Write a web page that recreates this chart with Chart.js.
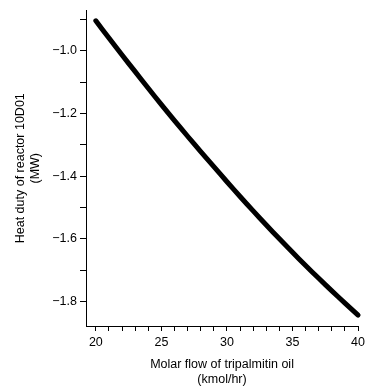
<!DOCTYPE html>
<html>
<head>
<meta charset="utf-8">
<script src="https://cdn.jsdelivr.net/npm/chart.js@4"></script>
<style>
html,body{margin:0;padding:0;background:#fff;}
#wrap{width:369px;height:391px;position:relative;}
</style>
</head>
<body>
<div id="wrap"><canvas id="c" width="369" height="391"></canvas></div>
<script>
// Molar flow of tripalmitin oil (kmol/hr)
const molarFlow = [20,21,22,23,24,25,26,27,28,29,30,31,32,33,34,35,36,37,38,39,40];
// Heat duty of reactor 10D01 (MW)
const heatDuty = [-0.905,-0.960,-1.014,-1.067,-1.120,-1.172,-1.223,-1.273,-1.322,-1.370,-1.418,-1.465,-1.511,-1.556,-1.600,-1.643,-1.685,-1.726,-1.766,-1.805,-1.843];
const xTickLabels = [20,25,30,35,40];
const yTickLabels = [-1.0,-1.2,-1.4,-1.6,-1.8];

const pts = molarFlow.map((x,i)=>({x:x,y:heatDuty[i]}));
const fmt = v => (v<0?'\u2212':'') + Math.abs(v).toFixed(1);
const font = {family:'"Liberation Sans", Arial, sans-serif', size:12.5};

new Chart(document.getElementById('c'), {
  type:'line',
  data:{datasets:[{data:pts, borderColor:'#000', borderWidth:5, borderCapStyle:'round', borderJoinStyle:'round', pointRadius:0, tension:0.3, fill:false}]},
  options:{
    responsive:false, animation:false, clip:false,
    layout:{padding:{top:6,right:7,left:13,bottom:4}},
    plugins:{legend:{display:false}, tooltip:{enabled:false}},
    scales:{
      x:{type:'linear', min:19.25, max:40,
        afterFit:s=>{s.height=61;},
        afterBuildTicks:s=>{s.ticks=molarFlow.map(v=>({value:v}));},
        ticks:{color:'#000', font:font, padding:4, maxRotation:0, autoSkip:false,
          callback:v=>xTickLabels.includes(v)?String(v):''},
        grid:{display:true, drawOnChartArea:false, drawTicks:true, tickLength:5, color:'#000', lineWidth:1},
        border:{display:true, color:'#000', width:1},
        title:{display:true, text:['Molar flow of tripalmitin oil','(kmol/hr)'], color:'#000', font:font, padding:{top:2,bottom:0}}
      },
      y:{type:'linear', min:-1.878, max:-0.872,
        afterFit:s=>{s.width=73;},
        afterBuildTicks:s=>{s.ticks=[-1.8,-1.7,-1.6,-1.5,-1.4,-1.3,-1.2,-1.1,-1.0,-0.9].map(v=>({value:v}));},
        ticks:{color:'#000', font:font, padding:3, autoSkip:false,
          callback:v=>yTickLabels.some(t=>Math.abs(t-v)<1e-6)?fmt(v):''},
        grid:{display:true, drawOnChartArea:false, drawTicks:true, tickLength:6, color:'#000', lineWidth:1},
        border:{display:true, color:'#000', width:1},
        title:{display:true, text:['Heat duty of reactor 10D01','(MW)'], color:'#000', font:font, padding:{top:0,bottom:0}}
      }
    }
  }
});
</script>
</body>
</html>
